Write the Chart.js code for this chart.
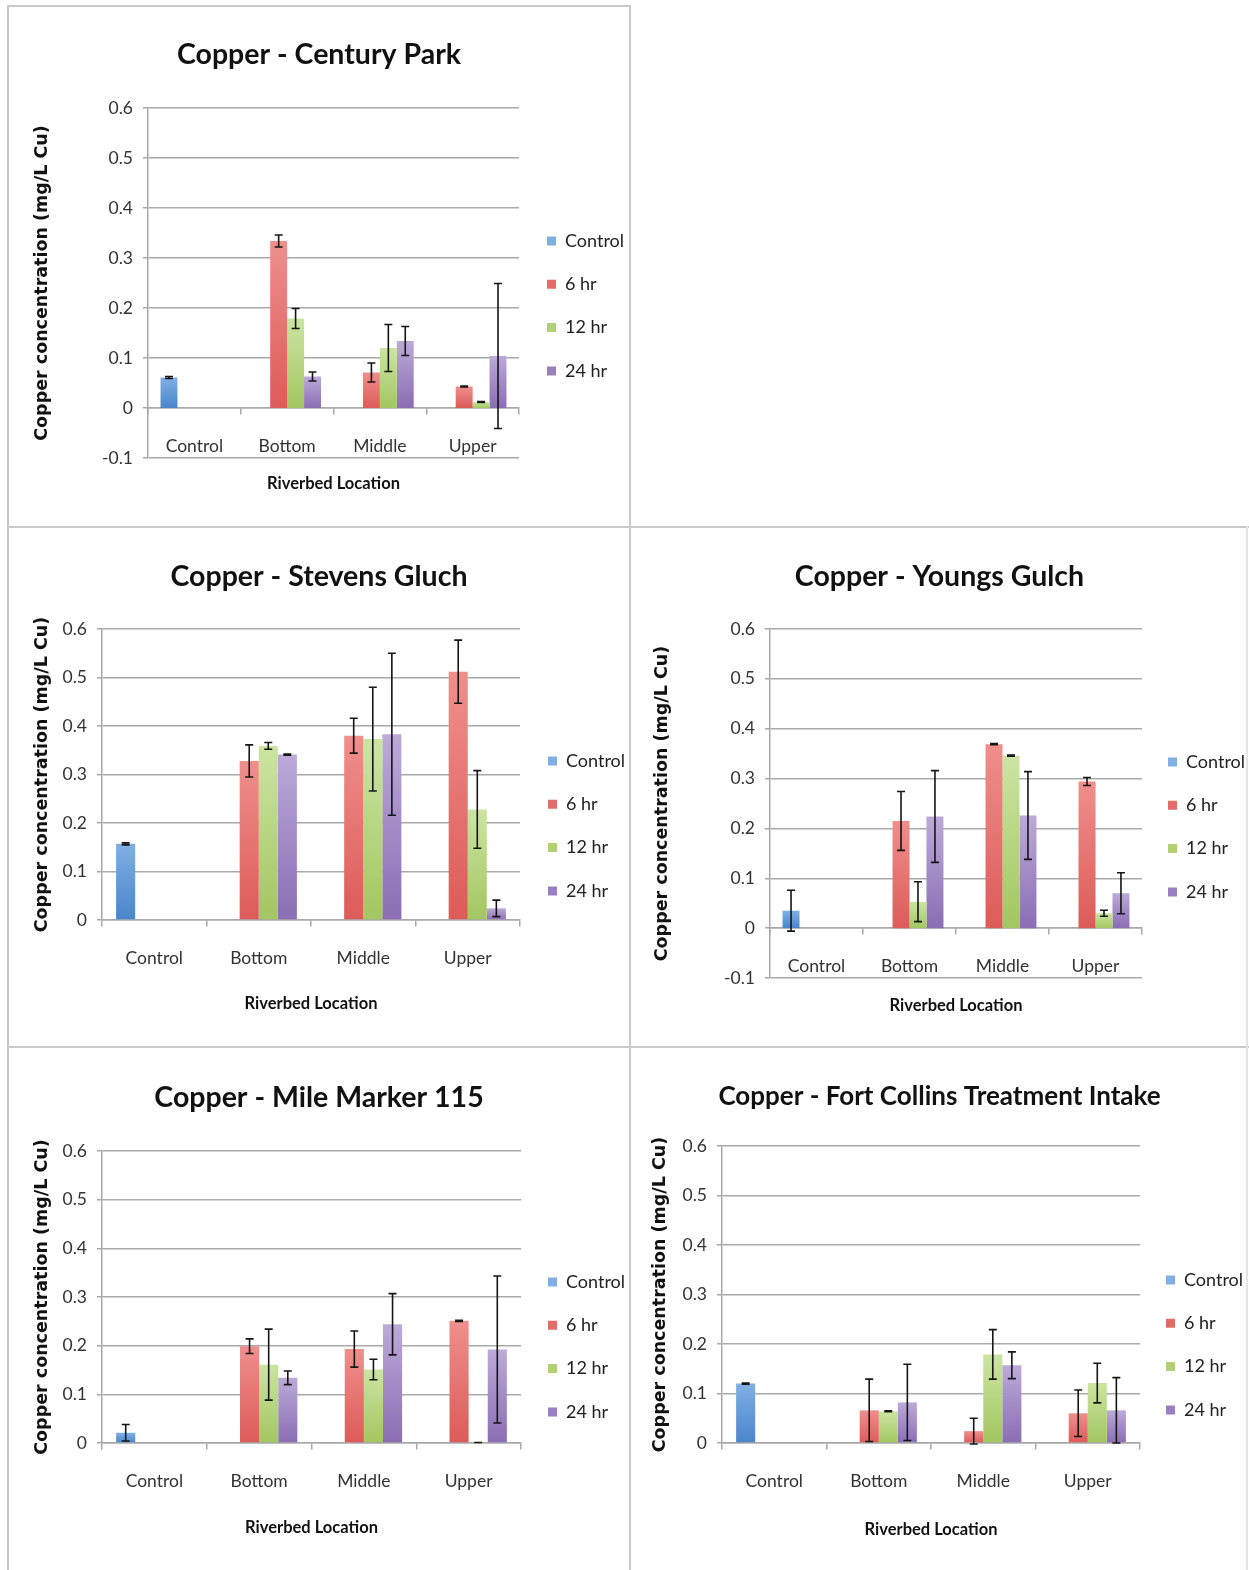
<!DOCTYPE html>
<html>
<head>
<meta charset="utf-8">
<script src="https://cdn.jsdelivr.net/npm/chart.js@4"></script>
<style>
  body { margin: 0; background: #fff; }
  #stage { position: relative; width: 1249px; height: 1570px; overflow: hidden; }
  .rule { position: absolute; background: #c9c9c9; }
  canvas { position: absolute; }
</style>
</head>
<body>
<div id="stage">
  <div class="rule" style="left:7px;top:5px;width:2px;height:1565px"></div>
  <div class="rule" style="left:7px;top:5px;width:624px;height:2px"></div>
  <div class="rule" style="left:629px;top:5px;width:2px;height:1565px"></div>
  <div class="rule" style="left:7px;top:526px;width:1242px;height:2px"></div>
  <div class="rule" style="left:7px;top:1046px;width:1242px;height:2px"></div>
  <div class="rule" style="left:1246px;top:526px;width:2px;height:1044px;background:#e4e4e4"></div>
</div>
<script>
// categories and series
const categories = ['Control', 'Bottom', 'Middle', 'Upper'];
const seriesNames = ['Control', '6 hr', '12 hr', '24 hr'];

// Century Park: one array per series (Control, 6 hr, 12 hr, 24 hr), values per category
const centuryMeans = [
  [0.061, null, null, null],
  [null, 0.334, 0.071, 0.043],
  [null, 0.179, 0.120, 0.012],
  [null, 0.063, 0.134, 0.104]
];
const centuryErrors = [
  [0.002, null, null, null],
  [null, 0.012, 0.019, 0.001],
  [null, 0.020, 0.047, 0.001],
  [null, 0.009, 0.029, 0.145]
];

// Stevens Gluch
const stevensMeans = [
  [0.157, null, null, null],
  [null, 0.328, 0.380, 0.512],
  [null, 0.359, 0.373, 0.228],
  [null, 0.341, 0.383, 0.024]
];
const stevensErrors = [
  [0.002, null, null, null],
  [null, 0.033, 0.036, 0.065],
  [null, 0.007, 0.107, 0.080],
  [null, 0.001, 0.167, 0.017]
];

// Youngs Gulch
const youngsMeans = [
  [0.035, null, null, null],
  [null, 0.215, 0.369, 0.294],
  [null, 0.053, 0.346, 0.030],
  [null, 0.224, 0.226, 0.070]
];
const youngsErrors = [
  [0.041, null, null, null],
  [null, 0.059, 0.001, 0.008],
  [null, 0.040, 0.001, 0.006],
  [null, 0.092, 0.088, 0.041]
];

// Mile Marker 115
const mileMeans = [
  [0.021, null, null, null],
  [null, 0.199, 0.193, 0.251],
  [null, 0.161, 0.151, 0.001],
  [null, 0.134, 0.244, 0.192]
];
const mileErrors = [
  [0.017, null, null, null],
  [null, 0.015, 0.037, 0.001],
  [null, 0.073, 0.021, 0.000],
  [null, 0.014, 0.063, 0.151]
];

// Fort Collins Treatment Intake
const fortMeans = [
  [0.120, null, null, null],
  [null, 0.066, 0.024, 0.060],
  [null, 0.064, 0.179, 0.121],
  [null, 0.082, 0.157, 0.066]
];
const fortErrors = [
  [0.001, null, null, null],
  [null, 0.063, 0.026, 0.047],
  [null, 0.001, 0.050, 0.040],
  [null, 0.077, 0.027, 0.066]
];

const NARROW = 'Lato, Roboto, "Liberation Sans", sans-serif';
const WIDE = '"DejaVu Sans", Verdana, sans-serif';
const GRID = '#a9a9a9';
const LEGEND_W = 90;
const LEGEND_FONT = 18;
const LEGEND_PAD = 43.3 - LEGEND_FONT;
const TICK_FONT = 17.5;
const XTITLE_FONT = 16.5;

// top / bottom colours of each series' bar gradient, plus legend swatch
const barColors = [
  { top: '#80afe4', bottom: '#4a85cb', flat: '#5b8fd0' },
  { top: '#ef8f8c', bottom: '#dc5b58', flat: '#e26c69' },
  { top: '#cce4a2', bottom: '#a2c660', flat: '#b0d073' },
  { top: '#bcaad9', bottom: '#8a6db3', flat: '#9a80c0' }
];

const panels = [
  { title: 'Copper - Century Park', means: centuryMeans, errs: centuryErrors, yMin: -0.1,
    box: { left: 8, top: 5, w: 622, h: 522 }, area: { l: 140, r: 511, t: 103, b: 453 },
    titleY: 50, titleSize: 28.5, xTitleY: 479, legendX: 539, legendY: 236, yTitleX: 34 },
  { title: 'Copper - Stevens Gluch', means: stevensMeans, errs: stevensErrors, yMin: 0,
    box: { left: 8, top: 527, w: 622, h: 520 }, area: { l: 94, r: 512, t: 102, b: 393 },
    titleY: 50, titleSize: 28.5, xTitleY: 477, legendX: 540, legendY: 234, yTitleX: 34 },
  { title: 'Copper - Youngs Gulch', means: youngsMeans, errs: youngsErrors, yMin: -0.1,
    box: { left: 630, top: 527, w: 619, h: 520 }, area: { l: 140, r: 512, t: 102, b: 451 },
    titleY: 50, titleSize: 28.5, xTitleY: 479, legendX: 538, legendY: 235, yTitleX: 32 },
  { title: 'Copper - Mile Marker 115', means: mileMeans, errs: mileErrors, yMin: 0,
    box: { left: 8, top: 1047, w: 622, h: 523 }, area: { l: 94, r: 513, t: 104, b: 396 },
    titleY: 51, titleSize: 28.5, xTitleY: 481, legendX: 540, legendY: 235, yTitleX: 34 },
  { title: 'Copper - Fort Collins Treatment Intake', means: fortMeans, errs: fortErrors, yMin: 0,
    box: { left: 630, top: 1047, w: 619, h: 523 }, area: { l: 92, r: 510, t: 99, b: 396 },
    titleY: 50, titleSize: 26, xTitleY: 483, legendX: 536, legendY: 233, yTitleX: 30 }
];

function barFill(idx) {
  return (ctx) => {
    const c = barColors[idx];
    const chart = ctx.chart;
    const y = chart.scales && chart.scales.y;
    if (!y || ctx.raw == null || ctx.type !== 'data') return c.flat;
    const top = y.getPixelForValue(ctx.raw);
    const base = y.getPixelForValue(0);
    if (!Number.isFinite(top) || !Number.isFinite(base) || Math.abs(base - top) < 1) return c.flat;
    const g = chart.ctx.createLinearGradient(0, top, 0, base);
    g.addColorStop(0, c.top);
    g.addColorStop(1, c.bottom);
    return g;
  };
}

const errorBars = {
  id: 'errorBars',
  afterDatasetsDraw(chart) {
    const { ctx } = chart;
    const y = chart.scales.y;
    ctx.save();
    ctx.strokeStyle = '#161616';
    ctx.lineWidth = 1.6;
    chart.data.datasets.forEach((ds, i) => {
      const meta = chart.getDatasetMeta(i);
      meta.data.forEach((bar, j) => {
        const v = ds.data[j], e = ds.errors[j];
        if (v == null || e == null) return;
        const y1 = y.getPixelForValue(v - e);
        const y2 = y.getPixelForValue(v + e);
        const x = bar.x;
        ctx.beginPath();
        ctx.moveTo(x, y1); ctx.lineTo(x, y2);
        ctx.moveTo(x - 4, y1); ctx.lineTo(x + 4, y1);
        ctx.moveTo(x - 4, y2); ctx.lineTo(x + 4, y2);
        ctx.stroke();
      });
    });
    ctx.restore();
  }
};

const stage = document.getElementById('stage');

function buildChart(p) {
  const canvas = document.createElement('canvas');
  canvas.width = p.box.w;
  canvas.height = p.box.h;
  canvas.style.left = p.box.left + 'px';
  canvas.style.top = p.box.top + 'px';
  canvas.style.width = p.box.w + 'px';
  canvas.style.height = p.box.h + 'px';
  stage.appendChild(canvas);

  // layout numbers so the plot area lands where the reference has it
  const side = p.box.w - p.area.r - LEGEND_W;
  const titleLH = p.titleSize * 1.2;
  const titlePadTop = p.titleY - titleLH / 2;
  const titlePadBottom = p.area.t - titlePadTop - titleLH;
  const xtLH = XTITLE_FONT * 1.2;
  const xtPadTop = p.xTitleY - p.area.b - xtLH / 2;
  const xtPadBottom = 4;
  const padBottom = p.box.h - p.area.b - (xtPadTop + xtLH + xtPadBottom);
  const yTitlePad = p.yTitleX - side - 10.5;

  // move the legend to the reference spot and widen its clip box
  const placeLegend = {
    id: 'placeLegend',
    afterLayout(chart) {
      const lg = chart.legend;
      const h = lg.height;
      lg.left = p.legendX - LEGEND_PAD;
      lg.right = p.box.w;
      lg.width = lg.right - lg.left;
      lg.top = p.legendY - LEGEND_PAD - LEGEND_FONT / 2;
      lg.bottom = lg.top + h;
    }
  };

  new Chart(canvas, {
    type: 'bar',
    data: {
      labels: categories,
      datasets: seriesNames.map((name, i) => ({
        label: name,
        data: p.means[i],
        errors: p.errs[i],
        backgroundColor: barFill(i),
        borderWidth: 0,
        categoryPercentage: 0.73,
        barPercentage: 1.0
      }))
    },
    options: {
      responsive: false,
      animation: false,
      devicePixelRatio: 1,
      layout: { padding: { left: side, right: side, top: 0, bottom: padBottom } },
      plugins: {
        title: {
          display: true,
          text: p.title,
          color: '#111',
          font: { family: NARROW, size: p.titleSize, weight: 'bold', lineHeight: 1.2 },
          padding: { top: titlePadTop, bottom: titlePadBottom }
        },
        subtitle: {
          display: true,
          position: 'bottom',
          fullSize: false,
          text: 'Riverbed Location',
          color: '#111',
          font: { family: NARROW, size: XTITLE_FONT, weight: 'bold', lineHeight: 1.2 },
          padding: { top: xtPadTop, bottom: xtPadBottom }
        },
        legend: {
          position: 'right',
          align: 'start',
          maxWidth: LEGEND_W,
          labels: {
            boxWidth: 9,
            boxHeight: 9,
            padding: LEGEND_PAD,
            color: '#222',
            font: { family: NARROW, size: LEGEND_FONT }
          }
        },
        tooltip: { enabled: false }
      },
      scales: {
        x: {
          type: 'category',
          position: { y: 0 },
          offset: true,
          afterFit: (s) => { s.height = 0; },
          grid: { display: true, drawOnChartArea: false, drawTicks: true, tickLength: 6, offset: true, color: GRID, lineWidth: 1.5 },
          border: { display: true, color: GRID, width: 1.5 },
          ticks: { padding: 22, maxRotation: 0, color: '#333', font: { family: NARROW, size: TICK_FONT } }
        },
        y: {
          type: 'linear',
          min: p.yMin,
          max: 0.6,
          afterFit: (s) => { s.width = p.area.l - side; },
          grid: { color: GRID, lineWidth: 1.5, tickLength: 5 },
          border: { display: true, color: GRID, width: 1.5 },
          ticks: {
            stepSize: 0.1,
            padding: 10,
            color: '#333',
            font: { family: NARROW, size: TICK_FONT },
            callback: (v) => String(Math.round(v * 10) / 10)
          },
          title: {
            display: true,
            text: 'Copper concentration (mg/L Cu)',
            color: '#111',
            font: { family: WIDE, size: 17.5, weight: 'bold', lineHeight: 1.2 },
            padding: { top: yTitlePad, bottom: 0 }
          }
        }
      }
    },
    plugins: [errorBars, placeLegend]
  });
}

panels.forEach(buildChart);
</script>
</body>
</html>
